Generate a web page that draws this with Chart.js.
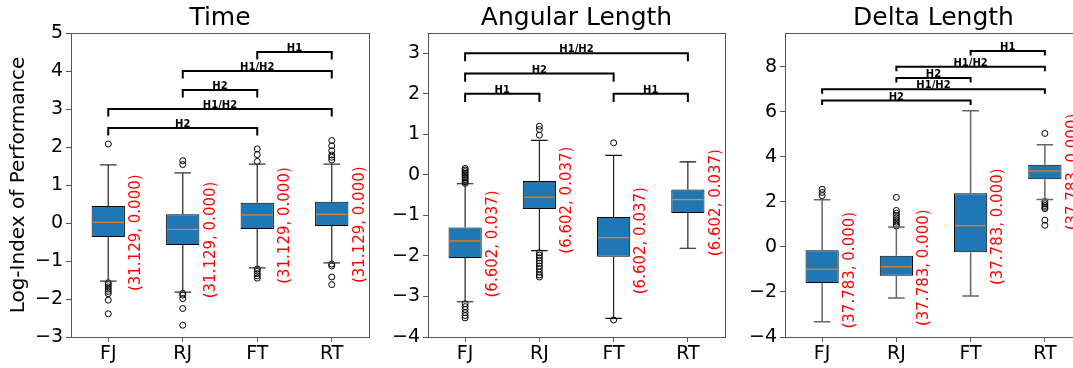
<!DOCTYPE html>
<html><head><meta charset="utf-8">
<script src="https://cdn.jsdelivr.net/npm/chart.js@4.4.0/dist/chart.umd.min.js"></script>
<style>
html,body{margin:0;padding:0;background:#fff;width:1073px;height:368px;overflow:hidden;position:relative}
canvas{position:absolute;top:0}
</style></head><body>
<canvas id="c1" width="375" height="368" style="left:0px;width:375px;height:368px"></canvas>
<canvas id="c2" width="355" height="368" style="left:375px;width:355px;height:368px"></canvas>
<canvas id="c3" width="360" height="368" style="left:730px;width:360px;height:368px"></canvas>
<script>
const categories = ['FJ', 'RJ', 'FT', 'RT'];

// ---- Panel 1: Time ----
const timeQ1   = [-0.37, -0.58, -0.16, -0.08];
const timeMed  = [0.02, -0.17, 0.21, 0.23];
const timeQ3   = [0.45, 0.23, 0.53, 0.56];
const timeLo   = [-1.53, -1.82, -1.18, -1.05];
const timeHi   = [1.53, 1.32, 1.55, 1.55];
const timeOutFJ = [2.08, -1.57, -1.62, -1.68, -1.74, -1.80, -1.86, -2.03, -2.39];
const timeOutRJ = [1.64, 1.54, -1.85, -1.90, -1.99, -2.25, -2.69];
const timeOutFT = [1.95, 1.80, 1.62, -1.21, -1.27, -1.33, -1.39, -1.45];
const timeOutRT = [2.17, 2.03, 1.90, 1.79, 1.73, 1.66, -1.08, -1.13, -1.42, -1.62];
const timeStat = '(31.129, 0.000)';
const timeBrFrom  = [0, 0, 1, 1, 2];
const timeBrTo    = [2, 3, 2, 3, 3];
const timeBrLevel = [2.5, 3.0, 3.5, 4.0, 4.5];
const timeBrText  = ['H2', 'H1/H2', 'H2', 'H1/H2', 'H1'];
const timeTicks = { min: -3, max: 5, step: 1 };

// ---- Panel 2: Angular Length ----
const angQ1  = [-2.05, -0.84, -2.02, -0.94];
const angMed = [-1.63, -0.55, -1.55, -0.61];
const angQ3  = [-1.30, -0.15, -1.04, -0.36];
const angLo  = [-3.13, -1.87, -3.54, -1.81];
const angHi  = [-0.22, 0.85, 0.48, 0.32];
const angOutFJ = [0.16, 0.12, 0.08, 0.04, 0.0, -0.04, -0.08, -0.12, -0.17, -0.21, -3.18, -3.25, -3.32, -3.40, -3.47, -3.53];
const angOutRJ = [1.20, 1.12, 0.98, -1.92, -1.98, -2.05, -2.12, -2.18, -2.25, -2.32, -2.40, -2.47, -2.52];
const angOutFT = [0.79, -3.58];
const angOutRT = [];
const angStat = '(6.602, 0.037)';
const angBrFrom  = [0, 2, 0, 0];
const angBrTo    = [1, 3, 2, 3];
const angBrLevel = [2.0, 2.0, 2.5, 3.0];
const angBrText  = ['H1', 'H1', 'H2', 'H1/H2'];
const angTicks = { min: -4, max: 3.5, step: 1 };

// ---- Panel 3: Delta Length ----
const dlQ1  = [-1.60, -1.28, -0.24, 3.01];
const dlMed = [-0.99, -0.88, 0.94, 3.37];
const dlQ3  = [-0.15, -0.39, 2.38, 3.65];
const dlLo  = [-3.32, -2.27, -2.18, 2.11];
const dlHi  = [2.10, 0.88, 6.05, 4.54];
const dlOutFJ = [2.56, 2.42, 2.28];
const dlOutRJ = [2.20, 1.62, 1.50, 1.40, 1.30, 1.20, 1.10, 1.00, 0.93];
const dlOutFT = [];
const dlOutRT = [5.04, 2.02, 1.92, 1.84, 1.76, 1.70, 1.19, 0.96];
const dlStat = '(37.783, 0.000)';
const dlBrFrom  = [0, 0, 1, 1, 2];
const dlBrTo    = [2, 3, 2, 3, 3];
const dlBrLevel = [6.5, 7.0, 7.5, 8.0, 8.7];
const dlBrText  = ['H2', 'H1/H2', 'H2', 'H1/H2', 'H1'];
const dlTicks = { min: -4, max: 9.5, step: 2 };

const FONT = "'DejaVu Sans', 'Liberation Sans', sans-serif";

function makePanel(id, p) {
  const outPts = [];
  p.outliers.forEach((arr, i) => arr.forEach(v => outPts.push({ x: categories[i], y: v })));

  const boxPlugin = {
    id: 'boxExtras' + id,
    afterDatasetsDraw(chart) {
      const ctx = chart.ctx, xs = chart.scales.x, ys = chart.scales.y;
      const catW = xs.getPixelForValue(1) - xs.getPixelForValue(0);
      const boxW = catW * 0.447;
      ctx.save();
      // whiskers + caps
      ctx.strokeStyle = p.whiskerColor; ctx.lineWidth = p.whiskerWidth;
      for (let i = 0; i < categories.length; i++) {
        const cx = xs.getPixelForValue(i);
        const yq1 = ys.getPixelForValue(p.q1[i]), yq3 = ys.getPixelForValue(p.q3[i]);
        const ylo = ys.getPixelForValue(p.lo[i]), yhi = ys.getPixelForValue(p.hi[i]);
        ctx.beginPath();
        ctx.moveTo(cx, yq1); ctx.lineTo(cx, ylo);
        ctx.moveTo(cx, yq3); ctx.lineTo(cx, yhi);
        ctx.moveTo(cx - boxW / 4, ylo); ctx.lineTo(cx + boxW / 4, ylo);
        ctx.moveTo(cx - boxW / 4, yhi); ctx.lineTo(cx + boxW / 4, yhi);
        ctx.stroke();
      }
      // medians
      ctx.strokeStyle = '#ff7f0e'; ctx.lineWidth = 1.2;
      for (let i = 0; i < categories.length; i++) {
        const cx = xs.getPixelForValue(i);
        const ym = ys.getPixelForValue(p.med[i]);
        ctx.beginPath();
        ctx.moveTo(cx - boxW / 2 + 1, ym); ctx.lineTo(cx + boxW / 2 - 1, ym);
        ctx.stroke();
      }
      // brackets
      ctx.strokeStyle = '#000'; ctx.lineWidth = 2; ctx.fillStyle = '#000';
      ctx.font = 'bold 10px ' + FONT;
      ctx.textAlign = 'center'; ctx.textBaseline = 'alphabetic';
      for (let k = 0; k < p.brFrom.length; k++) {
        const x1 = xs.getPixelForValue(p.brFrom[k]), x2 = xs.getPixelForValue(p.brTo[k]);
        const yl = ys.getPixelForValue(p.brLevel[k]);
        const yb = ys.getPixelForValue(p.brLevel[k] - 0.2);
        ctx.beginPath();
        ctx.moveTo(x1, yb); ctx.lineTo(x1, yl); ctx.lineTo(x2, yl); ctx.lineTo(x2, yb);
        ctx.stroke();
        ctx.fillText(p.brText[k], (x1 + x2) / 2, yl - 1);
      }
      // red stat texts
      ctx.fillStyle = '#ff0000';
      ctx.font = '15px ' + FONT;
      ctx.textAlign = 'center'; ctx.textBaseline = 'middle';
      for (let i = 0; i < categories.length; i++) {
        const tx = xs.getPixelForValue(i) + 0.375 * catW;
        const ty = ys.getPixelForValue(p.med[i]) + p.statOffset;
        ctx.save();
        ctx.translate(tx, ty); ctx.rotate(-Math.PI / 2);
        ctx.fillText(p.stat, 0, 0);
        ctx.restore();
      }
      // frame
      const a = chart.chartArea;
      ctx.strokeStyle = '#555'; ctx.lineWidth = 1;
      ctx.strokeRect(Math.round(a.left) + 0.5, Math.round(a.top) + 0.5, Math.round(a.right - a.left), Math.round(a.bottom - a.top));
      ctx.restore();
    }
  };

  const minus = v => String(v).replace('-', '\u2212');

  return new Chart(document.getElementById(id), {
    data: {
      labels: categories,
      datasets: [
        {
          type: 'bar',
          data: categories.map((c, i) => [p.q1[i], p.q3[i]]),
          backgroundColor: '#1f77b4',
          borderColor: '#000',
          borderWidth: 1,
          borderSkipped: false,
          barPercentage: 0.447,
          categoryPercentage: 1.0
        },
        {
          type: 'line',
          data: outPts,
          showLine: false,
          pointStyle: 'circle',
          pointRadius: 3,
          pointBorderWidth: 1,
          pointBorderColor: '#000',
          pointBackgroundColor: 'rgba(0,0,0,0)'
        }
      ]
    },
    options: {
      responsive: false,
      animation: false,
      devicePixelRatio: 1,
      layout: { padding: { left: 0, right: p.padRight, top: 0, bottom: 0 } },
      plugins: {
        legend: { display: false },
        tooltip: { enabled: false },
        title: {
          display: true, text: p.title, fullSize: false,
          color: '#000', font: { family: FONT, size: 25, weight: 'normal', lineHeight: 1.2 },
          padding: { top: 3, bottom: 0 }
        }
      },
      scales: {
        x: {
          type: 'category',
          offset: true,
          grid: { offset: false, drawOnChartArea: false, drawTicks: true, tickLength: 5, color: '#555' },
          border: { display: true, color: '#555', width: 1 },
          ticks: { color: '#000', font: { family: FONT, size: 19 }, padding: 1, maxRotation: 0, autoSkip: false },
          afterFit(s) { s.height = 31; }
        },
        y: {
          type: 'linear',
          min: p.ticks.min, max: p.ticks.max,
          grid: { drawOnChartArea: false, drawTicks: true, tickLength: 5, color: '#555' },
          border: { display: true, color: '#555', width: 1 },
          ticks: {
            stepSize: p.ticks.step, includeBounds: false, color: '#000',
            font: { family: FONT, size: 19 }, padding: 3,
            callback: v => minus(v)
          },
          title: {
            display: !!p.ylabel, text: p.ylabel || '', color: '#000',
            font: { family: FONT, size: 20 }, padding: { top: 7, bottom: 0 }
          },
          afterFit(s) { s.width = p.axisWidth; }
        }
      }
    },
    plugins: [boxPlugin]
  });
}

makePanel('c1', {
  title: 'Time', ylabel: 'Log-Index of Performance',
  q1: timeQ1, med: timeMed, q3: timeQ3, lo: timeLo, hi: timeHi,
  outliers: [timeOutFJ, timeOutRJ, timeOutFT, timeOutRT],
  stat: timeStat, statOffset: 10.5,
  brFrom: timeBrFrom, brTo: timeBrTo, brLevel: timeBrLevel, brText: timeBrText,
  ticks: timeTicks, axisWidth: 71, padRight: 6,
  whiskerColor: '#333', whiskerWidth: 1.3
});
makePanel('c2', {
  title: 'Angular Length', ylabel: null,
  q1: angQ1, med: angMed, q3: angQ3, lo: angLo, hi: angHi,
  outliers: [angOutFJ, angOutRJ, angOutFT, angOutRT],
  stat: angStat, statOffset: 3,
  brFrom: angBrFrom, brTo: angBrTo, brLevel: angBrLevel, brText: angBrText,
  ticks: angTicks, axisWidth: 53, padRight: 5,
  whiskerColor: '#111', whiskerWidth: 1.1
});
makePanel('c3', {
  title: 'Delta Length', ylabel: null,
  q1: dlQ1, med: dlMed, q3: dlQ3, lo: dlLo, hi: dlHi,
  outliers: [dlOutFJ, dlOutRJ, dlOutFT, dlOutRT],
  stat: dlStat, statOffset: 1,
  brFrom: dlBrFrom, brTo: dlBrTo, brLevel: dlBrLevel, brText: dlBrText,
  ticks: dlTicks, axisWidth: 55, padRight: 8,
  whiskerColor: '#666', whiskerWidth: 1.5
});
</script>
</body></html>
